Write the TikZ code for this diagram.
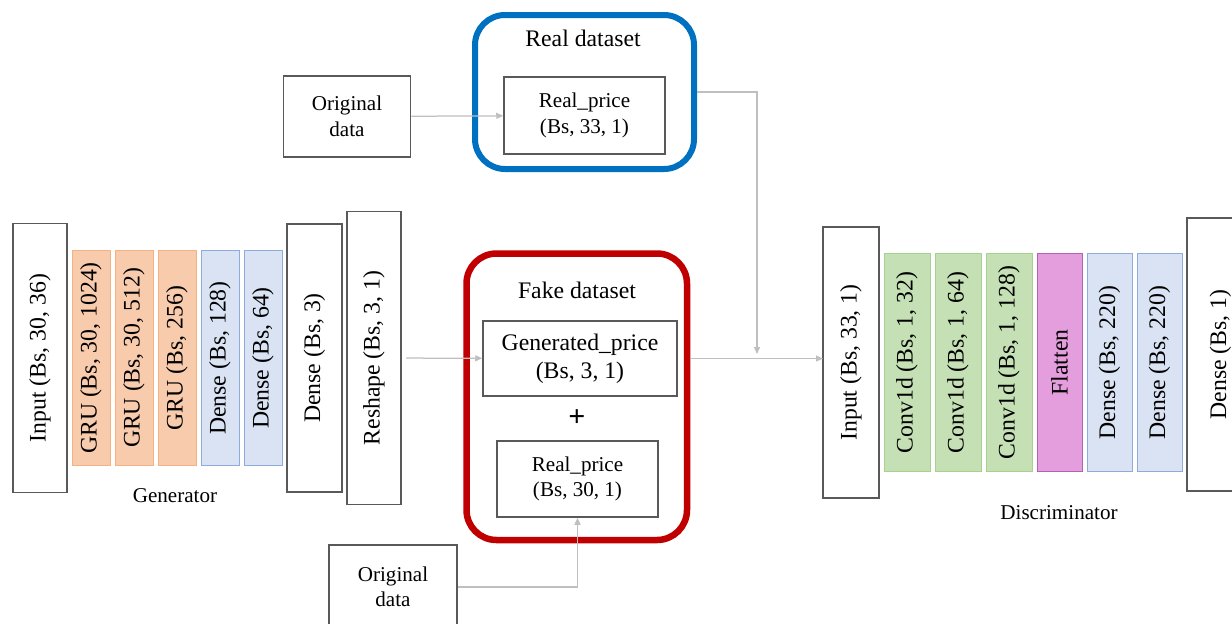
\documentclass[tikz,border=0pt]{standalone}
\usepackage{fontspec}
\setmainfont{Liberation Serif}
\usepackage{graphicx}
\usepackage{tikz}
\usetikzlibrary{positioning,arrows.meta}
\definecolor{grisTrait}{HTML}{BFBFBF}
\definecolor{grisBord}{HTML}{595959}
\definecolor{gruFond}{HTML}{F8CBAD}
\definecolor{gruBord}{HTML}{F4B183}
\definecolor{denseFond}{HTML}{DAE3F3}
\definecolor{denseBord}{HTML}{8FAADC}
\definecolor{convFond}{HTML}{C5E0B4}
\definecolor{convBord}{HTML}{A9D18E}
\definecolor{flatFond}{HTML}{E49EDD}
\definecolor{flatBord}{HTML}{B064B0}
\definecolor{bleuCadre}{HTML}{0070C0}
\definecolor{rougeCadre}{HTML}{C00000}
\newcommand{\vlab}[1]{\rotatebox{90}{#1}}
\tikzset{
  layer/.style={
    rectangle, draw=grisBord, line width=0.3mm, fill=white,
    inner sep=0pt, outer sep=0pt, font=\fontsize{13.5}{16}\selectfont},
  layerGru/.style={layer, draw=gruBord, fill=gruFond, line width=0.2mm,
    minimum width=7.6mm, minimum height=43mm},
  layerDense/.style={layer, draw=denseBord, fill=denseFond, line width=0.2mm,
    minimum width=7.6mm, minimum height=43mm},
  layerConv/.style={layer, draw=convBord, fill=convFond, line width=0.2mm,
    minimum width=9.2mm, minimum height=43.6mm},
  layerFlat/.style={layer, draw=flatBord, fill=flatFond, line width=0.2mm,
    minimum width=9mm, minimum height=43.6mm},
  boxPlain/.style={
    rectangle, draw=grisBord, line width=0.3mm, fill=white,
    align=center, inner sep=0pt, font=\fontsize{12}{14.5}\selectfont},
  boxBig/.style={boxPlain, font=\fontsize{13.5}{16}\selectfont},
  frameReal/.style={rectangle, rounded corners=6mm, draw=bleuCadre,
    line width=1.2mm},
  frameFake/.style={rectangle, rounded corners=6mm, draw=rougeCadre,
    line width=1.3mm},
  link/.style={-{Triangle[length=1.4mm,width=1.2mm]}, draw=grisTrait,
    line width=0.25mm},
  legend/.style={font=\fontsize{12}{14.5}\selectfont},
  titre/.style={font=\fontsize{13.5}{16}\selectfont}
}

\begin{document}
\begin{tikzpicture}[x=0.2mm, y=-0.2mm, node distance=1mm]
  \useasboundingbox (0,0) rectangle (1232,624);

  % --- Generator
  \node[layer, minimum width=10.8mm, minimum height=53.8mm] (gIn) at (40,358)
    {\vlab{Input (Bs, 30, 36)}};
  \node[layerGru, right=of gIn] (gGru1) {\vlab{GRU (Bs, 30, 1024)}};
  \node[layerGru, right=of gGru1] (gGru2) {\vlab{GRU (Bs, 30, 512)}};
  \node[layerGru, right=of gGru2] (gGru3) {\vlab{GRU (Bs, 256)}};
  \node[layerDense, right=of gGru3] (gDense1) {\vlab{Dense (Bs, 128)}};
  \node[layerDense, right=of gDense1] (gDense2) {\vlab{Dense (Bs, 64)}};
  \node[layer, minimum width=11mm, minimum height=53.6mm, right=of gDense2] (gDense3)
    {\vlab{Dense (Bs, 3)}};
  \node[layer, minimum width=10.8mm, minimum height=58.6mm, right=of gDense3] (gReshape)
    {\vlab{Reshape (Bs, 3, 1)}};
  \node[legend] (gLabel) at (175,496) {Generator};

  % --- Real dataset
  \node[frameReal, minimum width=43.8mm, minimum height=30.8mm] (realFrame) at (584.5,92) {};
  \node[titre] (realTitle) at (583,38) {Real dataset};
  \node[boxPlain, minimum width=32.2mm, minimum height=15.4mm] (realP) at (584.5,115.5)
    {Real\_price\\(Bs, 33, 1)};
  \node[boxPlain, minimum width=25.4mm, minimum height=16.2mm] (origTop) at (347,116.5)
    {Original\\data};
  \draw[link] (origTop) -- (realP);

  % --- Fake dataset
  \node[frameFake, minimum width=44.1mm, minimum height=57.3mm] (fakeFrame) at (576.75,396.75) {};
  \node[titre] (fakeTitle) at (577,290) {Fake dataset};
  \node[boxBig, minimum width=38.8mm, minimum height=15mm] (genP) at (580,358.5)
    {Generated\_price\\(Bs, 3, 1)};
  \node[font=\fontsize{17}{18}\selectfont\bfseries] (plus) at (577,418) {+};
  \node[boxPlain, minimum width=32.2mm, minimum height=15.2mm] (realP2) at (577.5,479)
    {Real\_price\\(Bs, 30, 1)};
  \node[boxPlain, minimum width=25.6mm, minimum height=16.8mm] (origBot) at (393,587)
    {Original\\data};
  \draw[link, shorten <=1mm] (gReshape) -- (genP);
  \draw[link] (origBot.east) -| (realP2.south);

  % --- Discriminator
  \node[layer, minimum width=11.2mm, minimum height=54.2mm] (dIn) at (851,362.5)
    {\vlab{Input (Bs, 33, 1)}};
  \node[layerConv, right=of dIn] (dConv1) {\vlab{Conv1d (Bs, 1, 32)}};
  \node[layerConv, right=of dConv1] (dConv2) {\vlab{Conv1d (Bs, 1, 64)}};
  \node[layerConv, right=of dConv2] (dConv3) {\vlab{Conv1d (Bs, 1, 128)}};
  \node[layerFlat, right=of dConv3] (dFlat) {\vlab{Flatten}};
  \node[layerDense, minimum width=9mm, minimum height=43.6mm, right=of dFlat] (dDense1)
    {\vlab{Dense (Bs, 220)}};
  \node[layerDense, minimum width=9mm, minimum height=43.6mm, right=of dDense1] (dDense2)
    {\vlab{Dense (Bs, 220)}};
  \node[layer, minimum width=13.4mm, minimum height=54.6mm, right=of dDense2, yshift=1.6mm] (dOut)
    {\vlab{Dense (Bs, 1)}};
  \node[legend] (dLabel) at (1059,513) {Discriminator};

  % --- Liaisons vers le discriminateur
  \coordinate (merge) at (757,354);
  \draw[link] (realFrame.east) -| (merge);
  \draw[link] (genP -| fakeFrame.east) -- (genP -| dIn.west);

\end{tikzpicture}
\end{document}
